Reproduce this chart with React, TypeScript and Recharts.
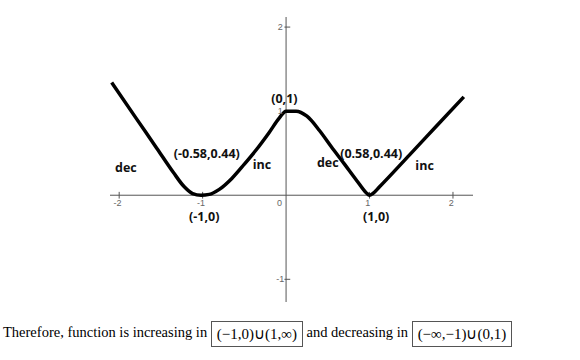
import React from "react"
import { LineChart, Line, XAxis, YAxis, ReferenceLine, ReferenceDot } from "recharts"

// points
const xs = [-2.09, -1.8, -1.55, -1.35, -1.22, -1.12, -1.02, -0.92, -0.8, -0.65, -0.5, -0.35, -0.2, -0.08, 0.0, 0.12, 0.25, 0.4, 0.54, 0.7, 0.85, 0.96, 1.0, 1.04, 1.12, 1.48, 1.8, 2.13]
const ys = [1.34, 0.92, 0.56, 0.27, 0.1, 0.02, 0.0, 0.01, 0.07, 0.2, 0.37, 0.55, 0.75, 0.92, 1.0, 1.0, 0.94, 0.77, 0.58, 0.37, 0.17, 0.03, 0.0, 0.02, 0.1, 0.48, 0.82, 1.17]

const xTicks = [-2, -1, 1, 2]
const yTicks = [2, 1, -1]

const notes = ["dec", "(-0.58,0.44)", "inc", "(0,1)", "dec", "(0.58,0.44)", "inc", "(-1,0)", "(1,0)"]
const noteX = [-1.92, -0.95, -0.29, -0.02, 0.5, 1.02, 1.66, -0.98, 1.08]
const noteY = [0.33, 0.5, 0.37, 1.15, 0.39, 0.49, 0.35, -0.25, -0.25]

const data = xs.map((x, i) => ({ x, y: ys[i] }))

const axisColor = "#555555"
const tickText = { fontSize: 9, fill: "#666666", fontFamily: "Arial, sans-serif" }
const noteText = { fontSize: 12.5, fill: "#111111", fontWeight: 700, fontFamily: "'Open Sans', sans-serif" }

const box: React.CSSProperties = {
  display: "inline-block",
  border: "1px solid #555",
  padding: "3px 5px",
  fontSize: 15,
  lineHeight: "18px",
  verticalAlign: "middle",
}

export default function App() {
  return (
    <div style={{ position: "absolute", left: 0, top: 0, width: 580, height: 360, background: "#fff" }}>
      <LineChart width={580} height={310} data={data} margin={{ top: 17, right: 107, bottom: 8, left: 110 }}>
        <XAxis type="number" dataKey="x" domain={[-2.11, 2.24]} hide />
        <YAxis type="number" domain={[-1.27, 2.12]} hide />
        <ReferenceLine y={0} stroke={axisColor} strokeWidth={1} />
        <ReferenceLine x={0} stroke={axisColor} strokeWidth={1} />
        {xTicks.map((t) => (
          <ReferenceLine key={"xt" + t} segment={[{ x: t, y: -0.04 }, { x: t, y: 0.04 }]} stroke={axisColor} />
        ))}
        {yTicks.map((t) => (
          <ReferenceLine key={"yt" + t} segment={[{ x: -0.02, y: t }, { x: 0.05, y: t }]} stroke={axisColor} />
        ))}
        {xTicks.map((t) => (
          <ReferenceDot key={"xl" + t} x={t - 0.02} y={-0.09} r={0} fill="none" stroke="none"
            label={{ value: String(t), position: "center", ...tickText }} />
        ))}
        <ReferenceDot x={-0.08} y={-0.09} r={0} fill="none" stroke="none"
          label={{ value: "0", position: "center", ...tickText }} />
        {yTicks.map((t) => (
          <ReferenceDot key={"yl" + t} x={-0.07} y={t} r={0} fill="none" stroke="none"
            label={{ value: String(t), position: "center", ...tickText }} />
        ))}
        <Line type="monotone" dataKey="y" stroke="#000" strokeWidth={3.5} dot={false} isAnimationActive={false} />
        {notes.map((n, i) => (
          <ReferenceDot key={"n" + i} x={noteX[i]} y={noteY[i]} r={0} fill="none" stroke="none"
            label={{ value: n, position: "center", ...noteText }} />
        ))}
      </LineChart>
      <div style={{ position: "absolute", left: 3, top: 321, fontFamily: "'Liberation Serif', serif", fontSize: 14.5, whiteSpace: "nowrap", color: "#000" }}>
        Therefore, function is increasing in <span style={box}>(−1,0)∪(1,∞)</span> and decreasing in <span style={box}>(−∞,−1)∪(0,1)</span>
      </div>
    </div>
  )
}
